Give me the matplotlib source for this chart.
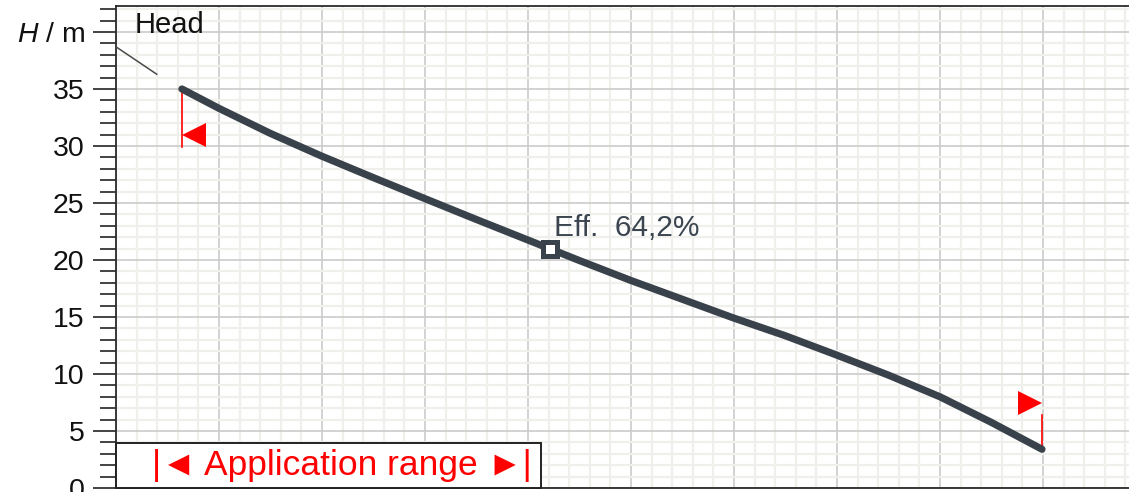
import matplotlib

matplotlib.use("Agg")
import matplotlib.pyplot as plt
from matplotlib.patches import Rectangle
from matplotlib.ticker import MultipleLocator, FixedLocator
from matplotlib.transforms import offset_copy

plt.rcParams["font.family"] = ["Liberation Sans", "DejaVu Sans"]
plt.rcParams["mathtext.fontset"] = "custom"
plt.rcParams["mathtext.it"] = "Liberation Sans:italic"
plt.rcParams["mathtext.rm"] = "Liberation Sans"

# head curve (Q in arbitrary flow units, H in m)
Q = [6.4, 10, 15, 20, 25, 30, 35, 40, 45, 50, 55, 60, 65, 70, 75, 80, 85, 89.9]
H = [35.0, 33.3, 31.1, 29.1, 27.22, 25.38, 23.55, 21.75, 19.95, 18.2, 16.55, 14.9,
     13.35, 11.65, 9.9, 8.0, 5.75, 3.4]
BEP_Q, BEP_H = 42.1, 21.0
EFF_LABEL = "Eff.  64,2%"
Y_TICKS = [0, 5, 10, 15, 20, 25, 30, 35, 40]
Y_LABELS = ["0", "5", "10", "15", "20", "25", "30", "35", r"$H$ / m"]

CURVE = "#39424b"
RED = "#ff0000"

fig = plt.figure(figsize=(11.29, 4.92), dpi=100)
ax = fig.add_axes([116 / 1129, 4 / 492, 1 - 116 / 1129, 482 / 492])
ax.set_xlim(0, 98.35)
ax.set_ylim(0, 42.28)

# grid
ax.xaxis.set_major_locator(MultipleLocator(10))
ax.xaxis.set_minor_locator(MultipleLocator(2))
ax.yaxis.set_major_locator(FixedLocator(Y_TICKS))
ax.yaxis.set_minor_locator(MultipleLocator(1))
ax.grid(which="minor", color="#efefeb", lw=1.6, zorder=0)
ax.grid(which="major", color="#cbcbcb", lw=1.2, zorder=0.5)
ax.set_axisbelow(True)
ax.set_yticklabels(Y_LABELS)
ax.tick_params(axis="y", which="major", length=16.5, width=1.1, pad=6, labelsize=20.5,
               color="#111", labelcolor="#111")
ax.tick_params(axis="y", which="minor", length=11.5, width=1.1, color="#111")
ax.tick_params(axis="x", which="both", length=0, labelbottom=False)
for s in ["left", "top", "bottom"]:
    ax.spines[s].set_color("#2a2a2a")
    ax.spines[s].set_linewidth(1.3)
ax.spines["right"].set_visible(False)

# head curve
ax.plot(Q, H, color=CURVE, lw=5.2, solid_capstyle="round", solid_joinstyle="round", zorder=4)
ax.plot(BEP_Q, BEP_H, marker="s", ms=9.5, mfc="white", mec=CURVE, mew=3.6, zorder=5)
ax.annotate(EFF_LABEL, (BEP_Q, BEP_H), xytext=(3, 9), textcoords="offset points",
            fontsize=21.5, color="#3c4651", va="baseline", ha="left", zorder=6)

# "Head" label with leader line
ax.text(1.85, 39.9, "Head", fontsize=21, color="#111", va="baseline", ha="left")
ax.plot([0, 3.95], [38.7, 36.3], color="#4a4a4a", lw=1.1, zorder=3)

# application range markers
ax.plot([Q[0], Q[0]], [H[0], H[0] - 5.1], color=RED, lw=1.2, zorder=3)
ax.plot([Q[-1], Q[-1]], [H[-1], H[-1] + 3.0], color=RED, lw=1.2, zorder=3)
tl = offset_copy(ax.transData, fig=fig, x=12, y=-46.5, units="dots")
ax.plot(Q[0], H[0], marker="<", ms=17, color=RED, mew=0, transform=tl, zorder=3)
tr = offset_copy(ax.transData, fig=fig, x=-12, y=46, units="dots")
ax.plot(Q[-1], H[-1], marker=">", ms=17, color=RED, mew=0, transform=tr, zorder=3)

# application range box
ax.add_patch(Rectangle((0, 0), 41.3, 3.97, facecolor="white", edgecolor="#222",
                       lw=1.4, zorder=6, clip_on=False))
ax.text(21.9, 1.1, "|◄ Application range ►|", fontsize=25.5, color=RED,
        ha="center", va="baseline", zorder=7)

fig.savefig("out.png", dpi=100)
